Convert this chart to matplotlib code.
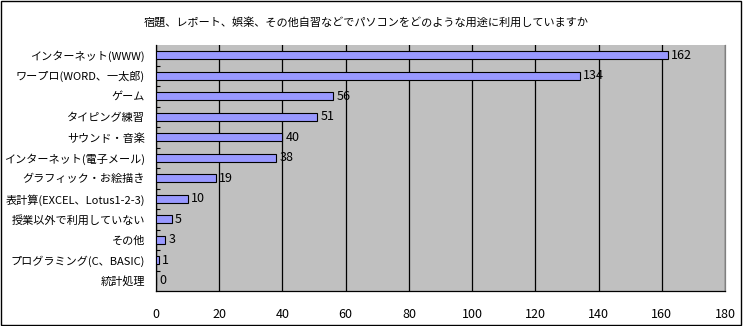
import matplotlib
matplotlib.use("Agg")
import matplotlib.pyplot as plt
from matplotlib.patches import Rectangle

plt.rcParams['font.family'] = ['Noto Sans CJK JP', 'DejaVu Sans']

title = "宿題、レポート、娯楽、その他自習などでパソコンをどのような用途に利用していますか"
categories = ["インターネット(WWW)", "ワープロ(WORD、一太郎)", "ゲーム", "タイピング練習",
              "サウンド・音楽", "インターネット(電子メール)", "グラフィック・お絵描き",
              "表計算(EXCEL、Lotus1-2-3)", "授業以外で利用していない", "その他",
              "プログラミング(C、BASIC)", "統計処理"]
values = [162, 134, 56, 51, 40, 38, 19, 10, 5, 3, 1, 0]
xticks = [0, 20, 40, 60, 80, 100, 120, 140, 160, 180]

W, H = 743, 326
fig = plt.figure(figsize=(W / 100, H / 100), dpi=100)
fig.patch.set_facecolor("white")
fig.add_artist(Rectangle((0.5 / W, 1.5 / H), (W - 3) / W, (H - 2.5) / H, transform=fig.transFigure,
                         fill=False, edgecolor="black", linewidth=1.0))

left, right, top, bottom = 156, 725, 45, 291
ax = fig.add_axes([left / W, 1 - bottom / H, (right - left) / W, (bottom - top) / H])
ax.set_facecolor("#C0C0C0")

n = len(categories)
ypos = list(range(n))
ax.barh(ypos, values, height=0.39, color="#9999FF", edgecolor="black", linewidth=0.8, zorder=3)
for y, v in zip(ypos, values):
    ax.text(v + 1.0, y, str(v), va="center", ha="left", fontsize=9, zorder=4)

ax.set_xlim(0, 180)
ax.set_ylim(n - 0.5, -0.5)
ax.set_xticks(xticks)
ax.set_xticklabels([str(t) for t in xticks], fontsize=9)
ax.tick_params(axis="x", length=0, pad=12)
ax.set_yticks(ypos)
ax.set_yticklabels(categories, fontsize=8)
ax.tick_params(axis="y", length=0, pad=8)
ax.set_yticks([i + 0.5 for i in range(n - 1)], minor=True)
ax.tick_params(axis="y", which="minor", length=3, direction="in", width=0.8)
ax.grid(axis="x", color="black", linewidth=0.9, zorder=1)
for s in ax.spines.values():
    s.set_color("black")
    s.set_linewidth(0.9)
ax.spines["top"].set_visible(False)
ax.spines["right"].set_color("#808080")

fig.text(366 / W, 1 - 22 / H, title, ha="center", va="center", fontsize=8)

fig.savefig("out.png", dpi=100)
